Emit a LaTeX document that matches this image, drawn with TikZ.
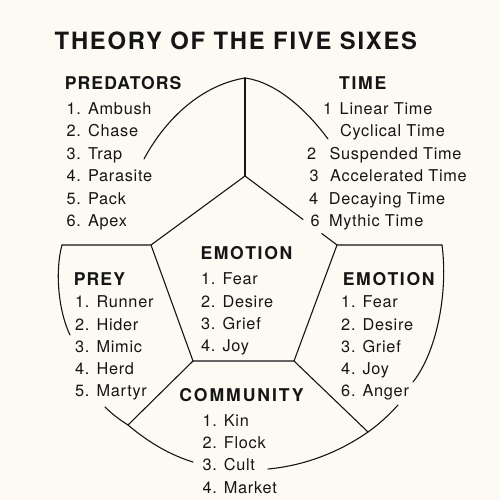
\documentclass[tikz,border=0pt]{standalone}
\usepackage{fontspec}
\setmainfont{TeX Gyre Heros}
\newfontfamily\itemfam[LetterSpace=4.5]{TeX Gyre Heros}
\newfontfamily\hdrfam[LetterSpace=6]{TeX Gyre Heros}
\newfontfamily\hdrwfam[LetterSpace=9.5]{TeX Gyre Heros}
\newfontfamily\hdrxfam[LetterSpace=11]{TeX Gyre Heros}
\newfontfamily\ttlfam[LetterSpace=7.5]{TeX Gyre Heros}
\usetikzlibrary{calc}
\definecolor{bg}{HTML}{FCFAF3}
\definecolor{ink}{HTML}{151515}
\tikzset{
  itm/.style={anchor=base west, inner sep=0pt, text=ink, font=\itemfam\fontsize{16.3}{18}\selectfont},
  hdr/.style={anchor=base west, inner sep=0pt, text=ink, font=\hdrfam\bfseries\fontsize{17.6}{20}\selectfont},
  hdrw/.style={hdr, font=\hdrwfam\bfseries\fontsize{17.6}{20}\selectfont},
  hdrx/.style={hdr, font=\hdrxfam\bfseries\fontsize{17.6}{20}\selectfont},
  ttl/.style={anchor=base west, inner sep=0pt, text=ink, font=\ttlfam\bfseries\fontsize{23.8}{26}\selectfont},
  ln/.style={draw=ink, line width=1.1pt, line join=round, line cap=round}
}
\begin{document}
\begin{tikzpicture}[x=1pt,y=-1pt]
\fill[bg] (0,0) rectangle (500,500);
% title
\node[ttl] (title) at (54.5,49.3) {THEORY OF THE FIVE SIXES};
% structure coordinates
\coordinate (T) at (245,78);
\coordinate (P1) at (245,176);
\coordinate (P2) at (151,245);
\coordinate (P5) at (337,245);
\coordinate (P3) at (193,361);
\coordinate (P4) at (294,361);
\coordinate (L) at (62,245);
\coordinate (R) at (442,245);
\coordinate (BL) at (128,425);
\coordinate (BR) at (368,432);
\coordinate (a1) at (144,159);
\coordinate (a2) at (328,139);
\coordinate (a3) at (70,335);
\coordinate (a4) at (413,382);
\coordinate (a5) at (398,405);
\coordinate (a6) at (268,469);
\coordinate (a7) at (105,407);
\coordinate (a8) at (193,462);
\coordinate (g1) at ($(P1)!0.63!(P5)$);
\coordinate (g2) at ($(P1)!0.835!(P5)$);
% straight lines
\draw[ln] (T) -- (P1);
\draw[ln] (L) -- (P2) -- (P1);
\draw[ln] (P1) -- (g1);
\draw[ln] (g2) -- (P5);
\draw[ln] (P2) -- (P3) -- (P4) -- (P5) -- (R);
\draw[ln] (P3) -- (BL);
\draw[ln] (P4) -- (BR);
% arcs
\draw[ln] (a1) .. controls (166,118) and (202,85) .. (T);
\draw[ln] (T) .. controls (275,82) and (305,108) .. (a2);
\draw[ln] (L) .. controls (55,270) and (58,310) .. (a3);
\draw[ln] (R) .. controls (448,290) and (438,350) .. (a4);
\draw[ln] (a5) .. controls (388,416) and (378,425) .. (BR);
\draw[ln] (BR) .. controls (335,455) and (300,466) .. (a6);
\draw[ln] (a7) .. controls (112,414) and (120,420) .. (BL);
\draw[ln] (BL) .. controls (148,442) and (170,455) .. (a8);
% PREDATORS
\node[hdr] (hpred) at (64.7,90) {PREDATORS};
\node[itm] (pr1) at (66.5,114.3) {1. Ambush};
\node[itm] (pr2) at (66.5,136.7) {2. Chase};
\node[itm] (pr3) at (66.5,159) {3. Trap};
\node[itm] (pr4) at (66.5,181.7) {4. Parasite};
\node[itm] (pr5) at (66.5,204) {5. Pack};
\node[itm] (pr6) at (66.5,226.7) {6. Apex};
% TIME
\node[hdrw] (htime) at (339,90) {TIME};
\node[itm] (tn1) at (323,114.3) {1};
\node[itm] (tt1) at (339.5,114.3) {Linear Time};
\node[itm] (tt1b) at (340,136.7) {Cyclical Time};
\node[itm] (tn2) at (307,159) {2};
\node[itm] (tt2) at (329.3,159) {Suspended Time};
\node[itm] (tn3) at (309.5,181.7) {3};
\node[itm] (tt3) at (330,181.7) {Accelerated Time};
\node[itm] (tn4) at (309,204) {4};
\node[itm] (tt4) at (328.7,204) {Decaying Time};
\node[itm] (tn6) at (310.4,226.7) {6};
\node[itm] (tt6) at (328.8,226.7) {Mythic Time};
% EMOTION centre
\node[hdrw] (hemo) at (200.3,259.3) {EMOTION};
\node[itm] (ec1) at (201,284.3) {1. Fear};
\node[itm] (ec2) at (201,307.3) {2. Desire};
\node[itm] (ec3) at (201,329.3) {3. Grief};
\node[itm] (ec4) at (201,351.7) {4. Joy};
% PREY
\node[hdr] (hprey) at (73.7,285) {PREY};
\node[itm] (py1) at (75,307.7) {1. Runner};
\node[itm] (py2) at (75,330) {2. Hider};
\node[itm] (py3) at (75,352.3) {3. Mimic};
\node[itm] (py4) at (75,374.3) {4. Herd};
\node[itm] (py5) at (75,396.7) {5. Martyr};
% EMOTION right
\node[hdrw] (hemor) at (342.6,285) {EMOTION};
\node[itm] (er1) at (341,307.7) {1. Fear};
\node[itm] (er2) at (341,330) {2. Desire};
\node[itm] (er3) at (341,352.3) {3. Grief};
\node[itm] (er4) at (341,374.3) {4. Joy};
\node[itm] (er6) at (341,396.7) {6. Anger};
% COMMUNITY
\node[hdrx] (hcom) at (179.2,401.7) {COMMUNITY};
\node[itm] (cm1) at (202.3,426) {1. Kin};
\node[itm] (cm2) at (202.3,448.3) {2. Flock};
\node[itm] (cm3) at (202.3,470.7) {3. Cult};
\node[itm] (cm4) at (202.3,493.3) {4. Market};
\end{tikzpicture}
\end{document}
